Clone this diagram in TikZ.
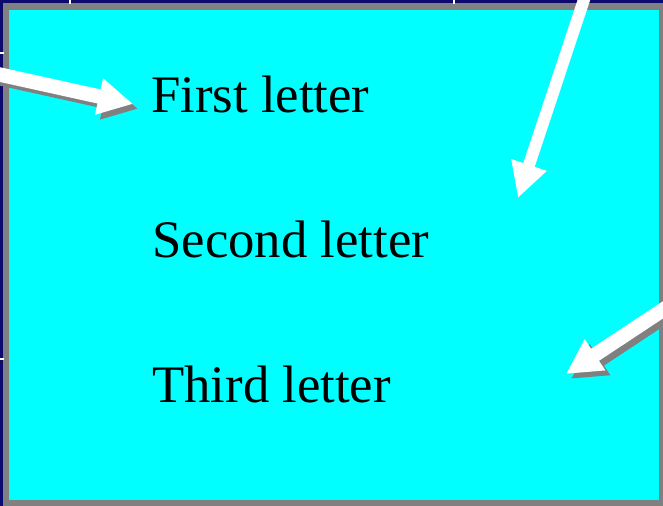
\documentclass[tikz,border=0pt]{standalone}
\usepackage{fontspec}
\setmainfont{Liberation Serif}
\usetikzlibrary{arrows.meta}
\definecolor{frameblue}{RGB}{12,10,110}
\definecolor{framegray}{RGB}{128,128,128}
\definecolor{slidecyan}{RGB}{0,255,255}
\begin{document}
\begin{tikzpicture}[
  lbl/.style={font=\fontsize{37.5}{45}\selectfont,anchor=base west,inner sep=0pt},
  ptr/.style={draw=white,line width=#1,-{Triangle[length=0.87cm,width=0.87cm]}},
  ptrshadow/.style={ptr=#1,draw=framegray,transform canvas={shift={(0.125,-0.12)}}},
  tick/.style={draw=white,line width=0.04cm}]
  \clip (0,0) rectangle (16.575,12.65);
  % marco de la diapositiva
  \fill[frameblue] (0,0) rectangle (16.575,12.65);
  \fill[framegray] (0.075,0) rectangle (16.575,12.575);
  \fill[slidecyan] (0.225,0.15) rectangle (16.475,12.4);
  \foreach \x in {1.75,11.35} \draw[tick] (\x,12.65) -- ++(0,-0.1);
  \foreach \y in {11.325,3.675} \draw[tick] (0,\y) -- ++(0.1,0);
  % textos
  \node[lbl] (first) at (3.775,9.825) {First letter};
  \node[lbl] (second) at (3.8,6.2) {Second letter};
  \node[lbl] (third) at (3.8,2.575) {Third letter};
  % flechas
  \coordinate (firsttail) at (-0.25,10.84);
  \coordinate (firsttip) at (3.325,10.05);
  \coordinate (secondtail) at (14.68,12.9);
  \coordinate (secondtip) at (12.95,7.7);
  \coordinate (thirdtail) at (16.825,5.07);
  \coordinate (thirdtip) at (14.15,3.3);
  \draw[ptrshadow=0.36cm] (firsttail) -- (firsttip);
  \draw[ptr=0.36cm] (firsttail) -- (firsttip);
  \draw[ptr=0.3cm] (secondtail) -- (secondtip);
  \draw[ptrshadow=0.36cm] (thirdtail) -- (thirdtip);
  \draw[ptr=0.36cm] (thirdtail) -- (thirdtip);
\end{tikzpicture}
\end{document}
